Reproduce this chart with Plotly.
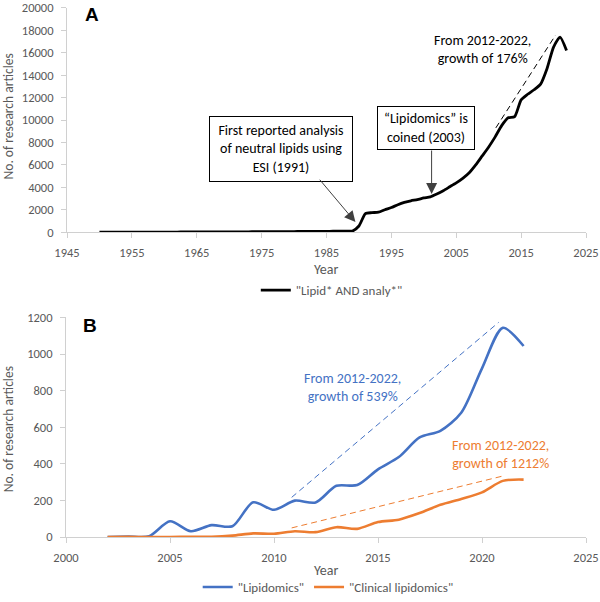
import plotly.graph_objects as go

# ---------------- Data ----------------
years_a = list(range(1950, 2023))
lipid_analy = [2, 3, 3, 4, 5, 5, 6, 7, 8, 9,
               10, 11, 12, 14, 15, 17, 19, 21, 23, 25,
               28, 30, 33, 35, 38, 40, 43, 46, 50, 53,
               56, 60, 64, 68, 72, 76, 80, 85, 90, 100,
               550, 1650, 1740, 1780, 2000, 2200, 2450, 2650, 2800, 2900,
               3050, 3150, 3400, 3700, 4050, 4400, 4800, 5300, 6000, 6800,
               7600, 8500, 9500, 10200, 10300, 11800, 12300, 12700, 13200, 14600,
               16500, 17400, 16200]

years_b = list(range(2002, 2023))
lipidomics = [0, 3, 5, 86, 32, 65, 59, 190, 149, 199, 189, 280, 284, 370, 437,
              544, 580, 679, 922, 1143, 1044]
clinical = [0, 1, 0, 0, 2, 2, 8, 20, 18, 32, 27, 54, 45, 82, 95, 131, 176,
            208, 244, 307, 314]

# trend (dashed) line endpoints
trend_a_x = [2011.1, 2020.3]
trend_a_y = [9300, 17565]
trend_b_blue_x = [2010.85, 2020.8]
trend_b_blue_y = [217, 1173]
trend_b_orange_x = [2010.85, 2020.95]
trend_b_orange_y = [50, 332]

xticks_a = [1945, 1955, 1965, 1975, 1985, 1995, 2005, 2015, 2025]
yticks_a = list(range(0, 20001, 2000))
xticks_b = [2000, 2005, 2010, 2015, 2020, 2025]
yticks_b = list(range(0, 1201, 200))

BLUE = "#4472C4"
ORANGE = "#ED7D31"
GRAY = "#595959"
AXIS = "#d0d0d0"
FONT = "Carlito, Calibri, Lato, sans-serif"

fig = go.Figure()

fig.add_trace(go.Scatter(x=years_a, y=lipid_analy, mode="lines",
                         line=dict(color="black", width=2.8, shape="spline", smoothing=0.6),
                         name='"Lipid* AND analy*"', xaxis="x", yaxis="y", legend="legend"))
fig.add_trace(go.Scatter(x=trend_a_x, y=trend_a_y, mode="lines",
                         line=dict(color="black", width=1, dash="6px,4px"),
                         showlegend=False, xaxis="x", yaxis="y", hoverinfo="skip"))

fig.add_trace(go.Scatter(x=years_b, y=lipidomics, mode="lines",
                         line=dict(color=BLUE, width=2.6, shape="spline", smoothing=0.8),
                         name='"Lipidomics"', xaxis="x2", yaxis="y2", legend="legend2"))
fig.add_trace(go.Scatter(x=years_b, y=clinical, mode="lines",
                         line=dict(color=ORANGE, width=2.6, shape="spline", smoothing=0.8),
                         name='"Clinical lipidomics"', xaxis="x2", yaxis="y2", legend="legend2"))
fig.add_trace(go.Scatter(x=trend_b_blue_x, y=trend_b_blue_y, mode="lines",
                         line=dict(color=BLUE, width=1, dash="6px,4px"),
                         showlegend=False, xaxis="x2", yaxis="y2", hoverinfo="skip"))
fig.add_trace(go.Scatter(x=trend_b_orange_x, y=trend_b_orange_y, mode="lines",
                         line=dict(color=ORANGE, width=1, dash="6px,4px"),
                         showlegend=False, xaxis="x2", yaxis="y2", hoverinfo="skip"))

axis_common = dict(showgrid=False, zeroline=False, showline=True, linecolor=AXIS, linewidth=1,
                   ticks="outside", ticklen=5, tickcolor=AXIS,
                   tickfont=dict(family=FONT, size=12.5, color=GRAY),
                   tickformat="d", ticklabeloverflow="allow", automargin=False)

fig.update_layout(
    width=600, height=602,
    margin=dict(l=0, r=0, t=0, b=0),
    paper_bgcolor="white", plot_bgcolor="white",
    font=dict(family=FONT, color=GRAY),
    xaxis=dict(domain=[67/600, 586/600], range=[1945, 2025], tickvals=xticks_a,
               anchor="y", ticklabelstandoff=4, **axis_common),
    yaxis=dict(domain=[1-235.3/602, 1-8/602], range=[0, 20000], tickvals=yticks_a,
               anchor="x", ticklabelstandoff=5, **axis_common),
    xaxis2=dict(domain=[66/600, 586/600], range=[2000, 2025], tickvals=xticks_b,
                anchor="y2", ticklabelstandoff=4, **axis_common),
    yaxis2=dict(domain=[1-544.3/602, 1-321.7/602], range=[0, 1200], tickvals=yticks_b,
                anchor="x2", ticklabelstandoff=5, **axis_common),
    legend=dict(orientation="h", x=0.553, xanchor="center", y=1-294/602, yanchor="middle",
                font=dict(family=FONT, size=13, color=GRAY), itemwidth=30, bgcolor="rgba(0,0,0,0)"),
    legend2=dict(orientation="h", x=0.547, xanchor="center", y=1-595/602, yanchor="middle",
                 font=dict(family=FONT, size=13, color=GRAY), itemwidth=30, bgcolor="rgba(0,0,0,0)"),
    showlegend=True,
)

ann = []
# panel letters
ann.append(dict(text="<b>A</b>", x=92/600, y=1-15/602, xref="paper", yref="paper", showarrow=False,
                xanchor="center", yanchor="middle",
                font=dict(family="Liberation Sans, Arial, sans-serif", size=19, color="black")))
ann.append(dict(text="<b>B</b>", x=90/600, y=1-330/602, xref="paper", yref="paper", showarrow=False,
                xanchor="center", yanchor="middle",
                font=dict(family="Liberation Sans, Arial, sans-serif", size=19, color="black")))
# axis titles
for ytitle in (1-118/602, 1-435/602):
    ann.append(dict(text="No. of research articles", x=8/600, y=ytitle, xref="paper", yref="paper",
                    xanchor="center", yanchor="middle",
                    showarrow=False, textangle=-90, font=dict(family=FONT, size=13.5, color=GRAY)))
for yy in (1-273/602, 1-578/602):
    ann.append(dict(text="Year", x=326/600, y=yy, xref="paper", yref="paper", showarrow=False,
                    xanchor="center", yanchor="middle",
                    font=dict(family=FONT, size=14, color=GRAY)))

# panel A annotation boxes
ann.append(dict(text="First reported analysis<br>of neutral lipids using<br>ESI (1991)",
                x=1978.0, y=7374, xref="x", yref="y", showarrow=False,
                width=142, height=64, borderpad=0, bordercolor="black", borderwidth=1, bgcolor="white",
                font=dict(family=FONT, size=14, color="black")))
ann.append(dict(text="", x=1989.46, y=900, ax=1983.77, ay=4809, xref="x", yref="y", axref="x", ayref="y",
                showarrow=True, arrowhead=2, arrowsize=2.2, arrowwidth=1, arrowcolor="#404040"))
ann.append(dict(text="“Lipidomics” is<br>coined (2003)",
                x=2000.31, y=9287, xref="x", yref="y", showarrow=False,
                width=96, height=42, borderpad=0, bordercolor="black", borderwidth=1, bgcolor="white",
                font=dict(family=FONT, size=14, color="black")))
ann.append(dict(text="", x=2001.2, y=3400, ax=2001.2, ay=7417, xref="x", yref="y", axref="x", ayref="y",
                showarrow=True, arrowhead=2, arrowsize=2.2, arrowwidth=1, arrowcolor="#404040"))
ann.append(dict(text="From 2012-2022,<br>growth of 176%", x=2009.0, y=16330, xref="x", yref="y",
                showarrow=False, font=dict(family=FONT, size=14, color="black")))

# panel B growth texts
ann.append(dict(text="From 2012-2022,<br>growth of 539%", x=2013.75, y=816, xref="x2", yref="y2",
                showarrow=False, font=dict(family=FONT, size=14, color=BLUE)))
ann.append(dict(text="From 2012-2022,<br>growth of 1212%", x=2020.87, y=449, xref="x2", yref="y2",
                showarrow=False, font=dict(family=FONT, size=14, color=ORANGE)))

fig.update_layout(annotations=ann)

fig.write_html("out.html", config={"displayModeBar": False},
               post_script="document.body.style.margin='0';document.body.style.overflow='hidden';")
